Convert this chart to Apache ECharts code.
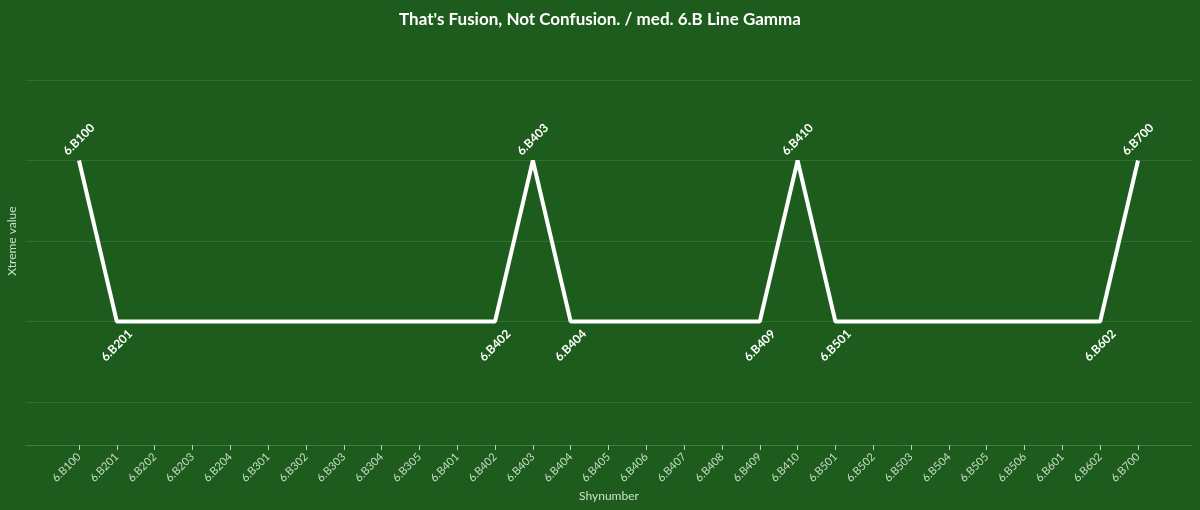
<!DOCTYPE html>
<html>
<head>
<meta charset="utf-8">
<script src="https://cdn.jsdelivr.net/npm/echarts@6/dist/echarts.min.js"></script>
<style>
html,body{margin:0;padding:0;background:#1d5c1d;}
#chart{width:1200px;height:510px;}
</style>
</head>
<body>
<div id="chart"></div>
<script>
const titleText = "That's Fusion, Not Confusion. / med. 6.B Line Gamma";
const xAxisTitle = "Shynumber";
const yAxisTitle = "Xtreme value";
const categories = ["6.B100","6.B201","6.B202","6.B203","6.B204","6.B301","6.B302","6.B303","6.B304","6.B305","6.B401","6.B402","6.B403","6.B404","6.B405","6.B406","6.B407","6.B408","6.B409","6.B410","6.B501","6.B502","6.B503","6.B504","6.B505","6.B506","6.B601","6.B602","6.B700"];
const values = [1,0,0,0,0,0,0,0,0,0,0,0,1,0,0,0,0,0,0,1,0,0,0,0,0,0,0,0,1];
const yMin = -0.767;
const yMax = 1.5;

const FONT = "Lato";
const seriesData = values.map(function (v, i) {
  const prev = i > 0 ? values[i - 1] : null;
  const next = i < values.length - 1 ? values[i + 1] : null;
  const turning = (prev !== null && prev !== v) || (next !== null && next !== v);
  const isPeak = (prev === null || v >= prev) && (next === null || v >= next);
  return {
    value: v,
    label: { show: turning, position: isPeak ? 'top' : 'bottom', distance: isPeak ? 21 : 24 }
  };
});

const chart = echarts.init(document.getElementById('chart'));
chart.setOption({
  backgroundColor: '#1d5c1d',
  animation: false,
  textStyle: { fontFamily: FONT },
  title: {
    text: titleText,
    left: 'center',
    top: 6,
    textStyle: { color: '#ffffff', fontSize: 17, fontWeight: 'bold', fontFamily: FONT }
  },
  graphic: [{
    type: 'text',
    x: 12,
    y: 241,
    rotation: Math.PI / 2,
    style: { text: yAxisTitle, fill: '#c8e0c8', font: '12px ' + FONT, align: 'center', verticalAlign: 'middle' }
  }],
  grid: [
    { left: 79, right: 62, top: 80, bottom: 65, containLabel: false },
    { left: 26, right: 8, top: 80, bottom: 65, containLabel: false }
  ],
  xAxis: [{
    gridIndex: 0,
    type: 'category',
    data: categories,
    boundaryGap: false,
    axisLine: { show: false, onZero: false },
    axisTick: { show: true, alignWithLabel: true, length: 5, lineStyle: { color: '#b8d4b8', width: 1 } },
    axisLabel: { rotate: 45, fontSize: 11, color: '#c8dcc8', margin: 10, fontFamily: FONT, interval: 0 },
    splitLine: { show: false }
  }, {
    gridIndex: 1,
    type: 'value',
    min: 0, max: 1,
    axisLine: { show: true, onZero: false, lineStyle: { color: '#3d7d3d', width: 1 } },
    axisTick: { show: false },
    axisLabel: { show: false },
    splitLine: { show: false },
    name: xAxisTitle,
    nameLocation: 'middle',
    nameGap: 45,
    nameTextStyle: { color: '#c8e0c8', fontSize: 12, fontFamily: FONT }
  }],
  yAxis: [{
    gridIndex: 0,
    type: 'value',
    min: yMin, max: yMax,
    show: false,
    splitLine: { show: false }
  }, {
    gridIndex: 1,
    type: 'value',
    min: yMin, max: yMax,
    splitNumber: 5,
    axisLine: { show: false },
    axisTick: { show: false },
    axisLabel: { show: false },
    splitLine: { show: true, lineStyle: { color: '#2f6f2f', width: 1 } }
  }],
  series: [{
    type: 'line',
    xAxisIndex: 0,
    yAxisIndex: 0,
    data: seriesData,
    symbol: 'circle',
    symbolSize: 0,
    showSymbol: true,
    itemStyle: { color: '#ffffff' },
    lineStyle: { color: '#ffffff', width: 4 },
    label: {
      rotate: 45,
      align: 'center',
      verticalAlign: 'middle',
      color: '#ffffff',
      fontSize: 12,
      fontWeight: 'bold',
      fontFamily: FONT,
      formatter: function (p) { return p.name; }
    }
  }]
});
</script>
</body>
</html>
